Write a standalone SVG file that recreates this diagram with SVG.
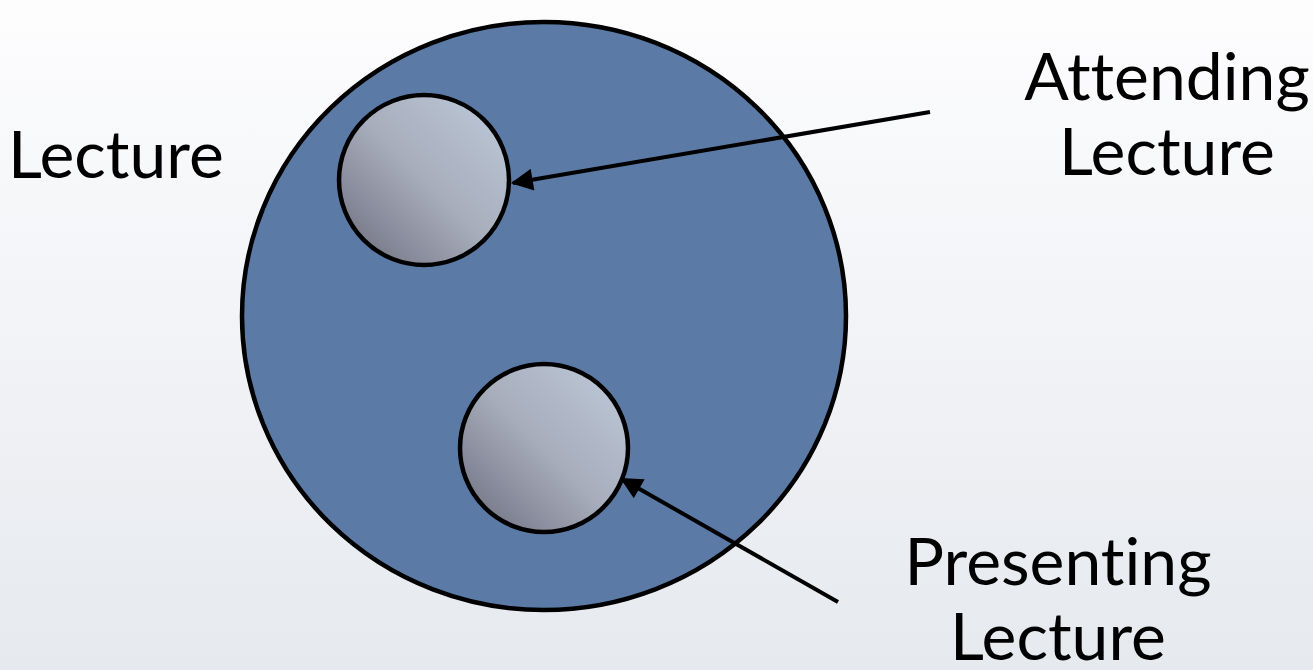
<svg xmlns="http://www.w3.org/2000/svg" width="1313" height="670" viewBox="0 0 1313 670">
<defs>
<linearGradient id="bg" x1="0" y1="0" x2="0" y2="1">
<stop offset="0" stop-color="#fdfdfe"/>
<stop offset="1" stop-color="#e6e9ee"/>
</linearGradient>
<linearGradient id="small" x1="1" y1="0" x2="0" y2="1">
<stop offset="0" stop-color="#bfcbdb"/>
<stop offset="0.5" stop-color="#a7adbb"/>
<stop offset="1" stop-color="#6b6b7c"/>
</linearGradient>
<marker id="arrow" viewBox="0 0 10 10" refX="9" refY="5" markerWidth="6.5" markerHeight="5.5" orient="auto" markerUnits="strokeWidth">
<path d="M0,0 L10,5 L0,10 z" fill="#000"/>
</marker>
<style>
.label{font-family:"Lato","Open Sans",sans-serif;font-size:66px;fill:#000;font-variant-ligatures:none;}
.small{stroke:#000;stroke-width:4.5;fill:url(#small);}
.conn{stroke:#000;stroke-width:4;fill:none;marker-end:url(#arrow);}
</style>
</defs>
<rect width="1313" height="670" fill="url(#bg)"/>
<g id="lecture">
<ellipse cx="544" cy="316" rx="302" ry="294" fill="#5b7aa5" stroke="#000" stroke-width="4.5"/>
<text class="label" x="8" y="178">Lecture</text>
</g>
<g id="attending">
<circle class="small" cx="424" cy="180" r="85"/>
<text class="label" x="1167" y="100" text-anchor="middle">Attending</text>
<text class="label" x="1167" y="175" text-anchor="middle">Lecture</text>
</g>
<g id="presenting">
<circle class="small" cx="544" cy="448" r="84"/>
<text class="label" x="1058" y="585" text-anchor="middle">Presenting</text>
<text class="label" x="1058" y="660" text-anchor="middle">Lecture</text>
</g>
<g id="connectors">
<line class="conn" x1="930" y1="112" x2="513" y2="183"/>
<line class="conn" x1="838" y1="602" x2="622" y2="479"/>
</g>
</svg>
